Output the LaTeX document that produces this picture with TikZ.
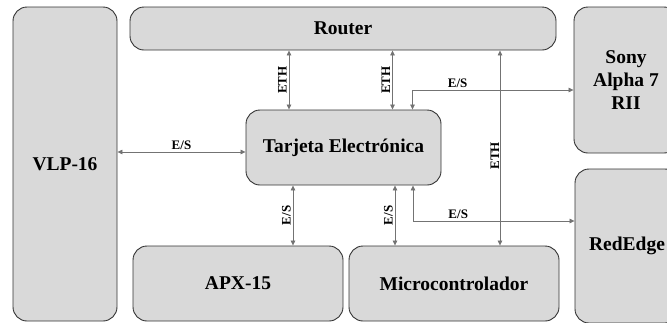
\documentclass[tikz,border=0pt]{standalone}
\usepackage{fontspec}
\setmainfont{Liberation Serif}
\usetikzlibrary{arrows.meta, positioning}

\begin{document}
\begin{tikzpicture}[
    x=1pt, y=-1pt,
    block/.style={rectangle, rounded corners=14pt, draw=black!80, line width=0.9pt, fill=black!15, align=center, font=\fontsize{19.5}{23}\selectfont\bfseries, inner sep=0pt},
    link/.style={{Triangle[length=5pt,width=4.5pt]}-{Triangle[length=5pt,width=4.5pt]}, draw=black!55, line width=0.7pt},
    tag/.style={font=\fontsize{13}{14}\selectfont\bfseries, text=black, inner sep=2pt}
]
\useasboundingbox (0,0) rectangle (667,322);
\clip (0,0) rectangle (667,322);

\node (vlp) [block, minimum width=104pt, minimum height=314pt] at (65,164) {VLP-16};
\node (router) [block, minimum width=426pt, minimum height=43pt] at (343,28.5) {Router};
\node (sony) [block, minimum width=104pt, minimum height=146pt] at (626,80) {Sony\\Alpha 7\\RII};
\node (rededge) [block, minimum width=104pt, minimum height=154pt] at (627,246) {RedEdge};
\node (tarjeta) [block, minimum width=195pt, minimum height=75pt] at (343.5,147.5) {Tarjeta Electrónica};
\node (apx) [block, minimum width=210pt, minimum height=75pt] at (238,283.5) {APX-15};
\node (micro) [block, minimum width=210pt, minimum height=75pt] at (454,283.5) {Microcontrolador};

% puntos de conexion
\coordinate (tw) at ([yshift=-4.5pt]tarjeta.west);
\coordinate (tn1) at ([xshift=-54.5pt]tarjeta.north);
\coordinate (tn2) at ([xshift=49pt]tarjeta.north);
\coordinate (tn3) at ([xshift=69pt]tarjeta.north);
\coordinate (ts1) at ([xshift=-50.5pt]tarjeta.south);
\coordinate (ts2) at ([xshift=51.5pt]tarjeta.south);
\coordinate (ts3) at ([xshift=69.5pt]tarjeta.south);
\coordinate (mn) at ([xshift=46pt]micro.north);

\draw [link] (vlp.east |- tw) -- node[tag, above] {E/S} (tw);
\draw [link] (tn1) -- node[tag, sloped, above] {ETH} (tn1 |- router.south);
\draw [link] (tn2) -- node[tag, sloped, above] {ETH} (tn2 |- router.south);
\draw [link] (tn3) |- node[tag, above, pos=0.64] {E/S} ([yshift=-10pt]sony.west);
\draw [link] (apx.north -| ts1) -- node[tag, sloped, above] {E/S} (ts1);
\draw [link] (micro.north -| ts2) -- node[tag, sloped, above] {E/S} (ts2);
\draw [link] (ts3) |- node[tag, above, pos=0.64] {E/S} ([yshift=25pt]rededge.west);
\draw [link] (mn) -- node[tag, sloped, above, inner sep=0.5pt, pos=0.46] {ETH} (mn |- router.south);

\end{tikzpicture}
\end{document}
